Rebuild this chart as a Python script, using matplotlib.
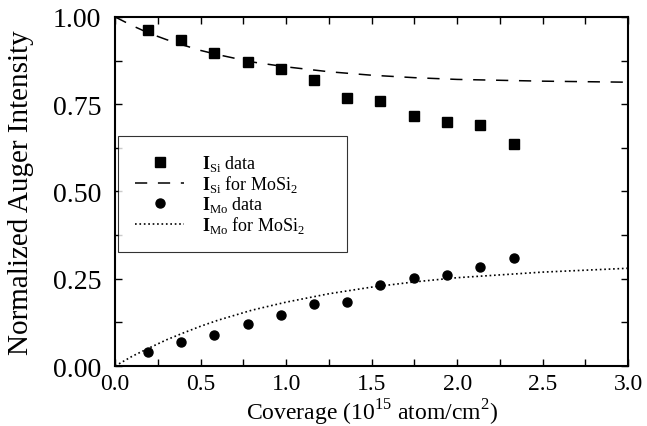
import matplotlib
matplotlib.use("Agg")
import matplotlib.pyplot as plt
from matplotlib.ticker import MultipleLocator

plt.rcParams['font.family'] = 'Liberation Serif'
plt.rcParams['mathtext.fontset'] = 'custom'
plt.rcParams['mathtext.rm'] = 'Liberation Serif'
plt.rcParams['mathtext.bf'] = 'Liberation Serif:bold'

# measured points
cov = [0.19, 0.385, 0.58, 0.775, 0.97, 1.16, 1.355, 1.55, 1.745, 1.94, 2.135, 2.33]
si_data = [0.964, 0.935, 0.897, 0.870, 0.852, 0.819, 0.769, 0.758, 0.715, 0.700, 0.690, 0.637]
mo_data = [0.041, 0.069, 0.089, 0.121, 0.146, 0.178, 0.183, 0.232, 0.252, 0.260, 0.285, 0.309]

# model curves for MoSi2
model_x = [0, 0.1, 0.2, 0.3, 0.4, 0.5, 0.6, 0.8, 1.0, 1.25, 1.5, 1.75, 2.0, 2.5, 3.0]
si_model = [1.0, 0.975, 0.953, 0.935, 0.919, 0.904, 0.892, 0.871, 0.857, 0.843, 0.833, 0.826, 0.821, 0.816, 0.813]
mo_model = [0, 0.028, 0.052, 0.075, 0.095, 0.114, 0.131, 0.16, 0.183, 0.207, 0.226, 0.241, 0.253, 0.269, 0.28]

fig = plt.figure(figsize=(6.47, 4.27), dpi=100)
ax = fig.add_axes([0.178, 0.1405, 0.793, 0.8175])

ax.plot(cov, si_data, 's', color='black', markersize=6.5, label=r'$\mathbf{I}_{\mathrm{Si}}$ data')
ax.plot(model_x, si_model, '--', color='black', lw=1.1, dashes=(8, 7), label=r'$\mathbf{I}_{\mathrm{Si}}$ for MoSi$_2$')
ax.plot(cov, mo_data, 'o', color='black', markersize=6.5, label=r'$\mathbf{I}_{\mathrm{Mo}}$ data')
ax.plot(model_x, mo_model, ':', color='black', lw=1.2, label=r'$\mathbf{I}_{\mathrm{Mo}}$ for MoSi$_2$')

ax.set_xlim(0, 3.0)
ax.set_ylim(0, 1.0)
ax.xaxis.set_major_locator(MultipleLocator(0.5))
ax.xaxis.set_minor_locator(MultipleLocator(0.25))
ax.yaxis.set_major_locator(MultipleLocator(0.25))
ax.yaxis.set_minor_locator(MultipleLocator(0.125))
ax.set_xticklabels([f'{v:.1f}' for v in ax.get_xticks()])
ax.set_yticklabels([f'{v:.2f}' for v in ax.get_yticks()])
ax.tick_params(which='both', direction='in', top=True, right=True, length=5, width=1)
ax.tick_params(axis='y', pad=10, labelsize=20)
ax.tick_params(axis='x', pad=5, labelsize=17)
for s in ax.spines.values():
    s.set_linewidth(1.5)

ax.set_xlabel(r'Coverage (10$^{15}$ atom/cm$^2$)', fontsize=17)
ax.xaxis.set_label_coords(0.5, -0.088)
ax.set_ylabel('Normalized Auger Intensity', fontsize=21)
ax.yaxis.set_label_coords(-0.158, 0.5)

leg = ax.legend(loc='upper left', bbox_to_anchor=(0.006, 0.341, 0.446, 0.318), mode='expand',
                fontsize=13, frameon=True, fancybox=False, edgecolor='black',
                handlelength=2.7, borderpad=0.95, labelspacing=0.0, handletextpad=1.0,
                borderaxespad=0)
leg.get_frame().set_linewidth(0.8)

plt.savefig('out.png', dpi=100)
